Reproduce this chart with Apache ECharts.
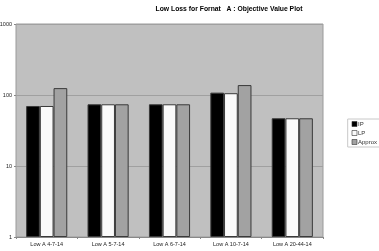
<!DOCTYPE html>
<html><head><meta charset="utf-8">
<script src="https://cdn.jsdelivr.net/npm/echarts@6/dist/echarts.min.js"></script>
<style>html,body{margin:0;padding:0;background:#fff}#c{width:379px;height:251px}</style>
</head><body><div id="c"></div>
<script>
const categories = ['Low A 4-7-14','Low A 5-7-14','Low A 6-7-14','Low A 10-7-14','Low A 20-44-14'];
const ipValues = [70, 74, 74, 108, 47];
const lpValues = [70, 74, 74, 106, 47];
const approxValues = [125, 74, 74, 138, 47];
const seriesNames = ['IP','LP','Approx'];
const chart = echarts.init(document.getElementById('c'), null, {renderer:'canvas'});
const font = 'Liberation Sans, Arial, sans-serif';
const colors = ['#000000','#fafafa','#a2a2a2'];
const data = [ipValues, lpValues, approxValues];
chart.setOption({
  animation:false,
  backgroundColor:'#fff',
  title:{text:'Low Loss for Fornat   A : Objective Value Plot', left:224, top:1, textAlign:'center',
    textStyle:{fontSize:6.8, fontWeight:'bold', fontFamily:font, color:'#000'}},
  legend:{orient:'vertical', right:-4, top:119, itemWidth:5, itemHeight:5, itemGap:3,
    padding:[2,6,2,4], borderColor:'#c8c8c8', borderWidth:1, backgroundColor:'#fff',
    icon:'rect', textStyle:{fontSize:6, fontFamily:font, color:'#333', padding:[0,0,0,-4]},
    itemStyle:{borderColor:'#333', borderWidth:0.6},
    data:seriesNames},
  grid:{left:16, right:56, top:24, bottom:14, outerBoundsMode:'none', containLabel:false, show:true, backgroundColor:'#c0c0c0', borderColor:'#9a9a9a', borderWidth:1},
  xAxis:{type:'category', data:categories,
    axisLine:{lineStyle:{color:'#888'}}, axisTick:{show:true, length:2, lineStyle:{color:'#888'}},
    axisLabel:{fontSize:5.5, fontFamily:font, color:'#222', margin:4}},
  yAxis:{type:'log', logBase:10, min:1, max:1000,
    axisLine:{show:false}, axisTick:{show:true, length:2, lineStyle:{color:'#888'}},
    axisLabel:{fontSize:5.5, fontFamily:font, color:'#222', margin:4, formatter:v=>String(Math.round(v))},
    splitLine:{show:true, lineStyle:{color:'#a0a0a0', width:1}}},
  series: seriesNames.map((n,i)=>({name:n, type:'bar', data:data[i], barGap:'0%', barCategoryGap:'33%',
    itemStyle:{color:colors[i], borderColor:'#3a3a3a', borderWidth:1}}))
});
</script></body></html>
